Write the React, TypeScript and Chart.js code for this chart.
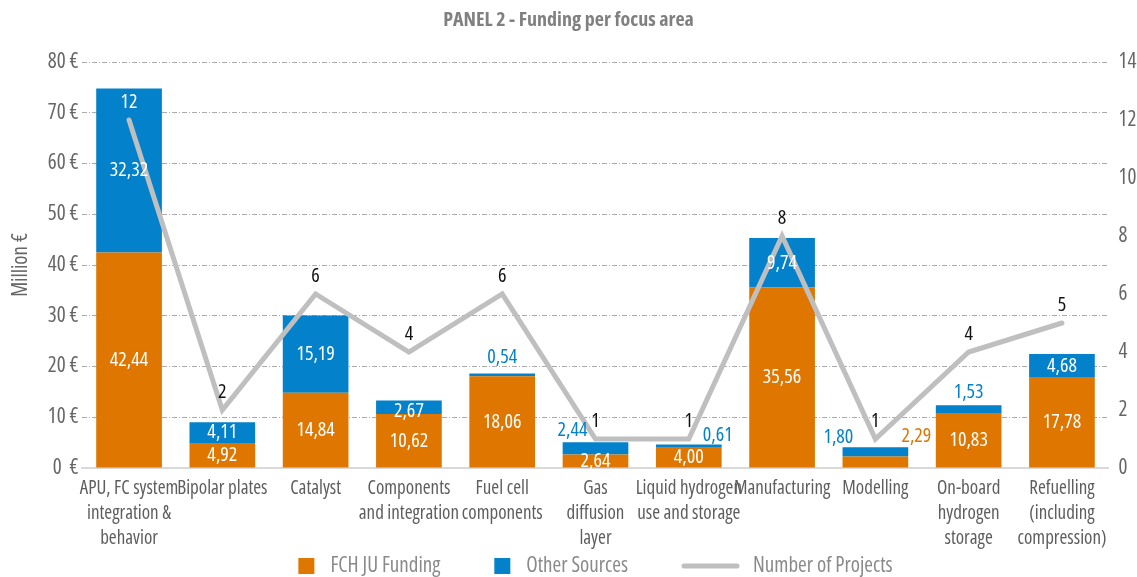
import React, { useEffect, useRef } from 'react';
import { Chart, registerables } from 'chart.js';

Chart.register(...registerables);

const chartTitle = 'PANEL 2 - Funding per focus area';
const yAxisTitle = 'Million €';

const categories: (string | string[])[] = [
  ['APU, FC system', 'integration &', 'behavior'],
  'Bipolar plates',
  'Catalyst',
  ['Components', 'and integration'],
  ['Fuel cell', 'components'],
  ['Gas', 'diffusion', 'layer'],
  ['Liquid hydrogen', 'use and storage'],
  'Manufacturing',
  'Modelling',
  ['On-board', 'hydrogen', 'storage'],
  ['Refuelling', '(including', 'compression)'],
];

const fchJuFunding = [42.44, 4.92, 14.84, 10.62, 18.06, 2.64, 4.0, 35.56, 2.29, 10.83, 17.78];
const otherSources = [32.32, 4.11, 15.19, 2.67, 0.54, 2.44, 0.61, 9.74, 1.8, 1.53, 4.68];
const numberOfProjects = [12, 2, 6, 4, 6, 1, 1, 8, 1, 4, 5];

const seriesNames = ['FCH JU Funding', 'Other Sources', 'Number of Projects'];

const leftAxis = { min: 0, max: 80, step: 10 };
const rightAxis = { min: 0, max: 14, step: 2 };

const FAMILY = "'Open Sans', 'DejaVu Sans Condensed', sans-serif";
const STRETCH = 'condensed';
const ORANGE = '#DE7600';
const BLUE = '#0381CA';
const LINE_GREY = '#BFBFBF';
const GRID_GREY = '#ABABAB';
const TICK_COLOR = '#666666';
const LABEL_COLOR = '#5E5E5E';
const LEGEND_COLOR = '#8A8A8A';

const cfont = (size: number, bold = false) => `${bold ? 'bold ' : ''}${STRETCH} ${size}px ${FAMILY}`;

// label placement tweaks (pixel offsets from a segment's centre), per dataset index -> category index
const labelTweaks: Record<number, Record<number, { dx: number; dy: number; color: string }>> = {
  1: { 8: { dx: 41, dy: -26, color: ORANGE } },
  2: {
    3: { dx: 0, dy: 4, color: '#FFFFFF' },
    4: { dx: 0, dy: -18, color: BLUE },
    5: { dx: -23, dy: -18, color: BLUE },
    6: { dx: 29, dy: -11, color: BLUE },
    8: { dx: -37, dy: -15, color: BLUE },
    9: { dx: 0, dy: -17, color: BLUE },
  },
};

const fmt = (v: number) => v.toFixed(2).replace('.', ',');

const dataLabelPlugin = {
  id: 'dataLabels',
  afterDatasetsDraw(chart: any) {
    const ctx = chart.ctx as CanvasRenderingContext2D;
    ctx.save();
    ctx.textAlign = 'center';
    ctx.textBaseline = 'middle';
    ctx.font = cfont(20);
    [1, 2].forEach((di) => {
      const meta = chart.getDatasetMeta(di);
      const values = chart.data.datasets[di].data as number[];
      meta.data.forEach((el: any, i: number) => {
        const { x, y, base } = el.getProps(['x', 'y', 'base'], true);
        const cy = (y + base) / 2;
        const tw = labelTweaks[di] && labelTweaks[di][i];
        ctx.fillStyle = tw ? tw.color : '#FFFFFF';
        ctx.fillText(fmt(values[i]), x + (tw ? tw.dx : 0), cy + (tw ? tw.dy : 0));
      });
    });
    const lineMeta = chart.getDatasetMeta(0);
    const lineVals = chart.data.datasets[0].data as number[];
    lineMeta.data.forEach((pt: any, i: number) => {
      const { x, y } = pt.getProps(['x', 'y'], true);
      ctx.fillStyle = i === 0 ? '#FFFFFF' : '#111111';
      ctx.fillText(String(lineVals[i]), x, y - 18);
    });
    ctx.restore();
  },
};

const legendPlugin = {
  id: 'customLegend',
  afterDraw(chart: any) {
    const ctx = chart.ctx as CanvasRenderingContext2D;
    const area = chart.chartArea;
    ctx.save();
    ctx.font = cfont(21);
    ctx.textBaseline = 'middle';
    ctx.textAlign = 'left';
    const y = 566;
    const items = [
      { kind: 'box', color: ORANGE, text: seriesNames[0] },
      { kind: 'box', color: BLUE, text: seriesNames[1] },
      { kind: 'line', color: LINE_GREY, text: seriesNames[2] },
    ];
    const widths = items.map((it) => (it.kind === 'box' ? 16 + 16 : 57 + 14) + ctx.measureText(it.text).width);
    const gap = 54;
    const total = widths.reduce((a, b) => a + b, 0) + gap * (items.length - 1);
    let x = (area.left + area.right) / 2 - total / 2;
    items.forEach((it, k) => {
      if (it.kind === 'box') {
        ctx.fillStyle = it.color;
        ctx.fillRect(x, y - 8, 16, 16);
        ctx.fillStyle = LEGEND_COLOR;
        ctx.fillText(it.text, x + 32, y);
      } else {
        ctx.strokeStyle = it.color;
        ctx.lineWidth = 5;
        ctx.lineCap = 'round';
        ctx.beginPath();
        ctx.moveTo(x + 2, y);
        ctx.lineTo(x + 55, y);
        ctx.stroke();
        ctx.fillStyle = LEGEND_COLOR;
        ctx.fillText(it.text, x + 71, y);
      }
      x += widths[k] + gap;
    });
    ctx.restore();
  },
};

export default function App() {
  const ref = useRef<HTMLCanvasElement>(null);
  useEffect(() => {
    document.body.style.margin = '0';
    const canvas = ref.current!;
    const chart = new Chart(canvas, {
      type: 'bar',
      data: {
        labels: categories as any,
        datasets: [
          {
            type: 'line',
            label: seriesNames[2],
            data: numberOfProjects,
            yAxisID: 'y1',
            borderColor: LINE_GREY,
            backgroundColor: LINE_GREY,
            borderWidth: 5,
            pointRadius: 0,
            pointHoverRadius: 0,
            tension: 0,
            borderCapStyle: 'round',
            order: 0,
          } as any,
          {
            type: 'bar',
            label: seriesNames[0],
            data: fchJuFunding,
            backgroundColor: ORANGE,
            yAxisID: 'y',
            stack: 'funding',
            barPercentage: 0.704,
            categoryPercentage: 1,
            order: 1,
          },
          {
            type: 'bar',
            label: seriesNames[1],
            data: otherSources,
            backgroundColor: BLUE,
            yAxisID: 'y',
            stack: 'funding',
            barPercentage: 0.704,
            categoryPercentage: 1,
            order: 1,
          },
        ],
      },
      options: {
        responsive: false,
        animation: false,
        layout: { padding: 0 },
        plugins: {
          legend: { display: false },
          tooltip: { enabled: false },
          title: {
            display: true,
            text: chartTitle,
            color: '#808080',
            font: { family: FAMILY, size: 20, weight: `bold ${STRETCH}` as any, lineHeight: 1.2 },
            padding: { top: 8, bottom: 30 },
          },
        },
        scales: {
          x: {
            stacked: true,
            grid: { display: false, drawTicks: false },
            border: { display: true, color: '#D9D9D9', width: 2 },
            ticks: {
              autoSkip: false,
              maxRotation: 0,
              minRotation: 0,
              padding: 8,
              color: LABEL_COLOR,
              font: { family: FAMILY, size: 19, weight: STRETCH as any, lineHeight: 25 / 19 },
            },
            afterFit: (s: any) => {
              s.height = 109;
            },
          },
          y: {
            stacked: true,
            position: 'left',
            min: leftAxis.min,
            max: leftAxis.max,
            ticks: {
              stepSize: leftAxis.step,
              padding: 4,
              color: TICK_COLOR,
              font: { family: FAMILY, size: 21, weight: STRETCH as any },
              callback: (v: any) => (Number(v) === 0 ? '0  €' : `${v} €`),
            },
            grid: {
              drawTicks: false,
              color: (c: any) => (c.tick && c.tick.value === 0 ? 'rgba(0,0,0,0)' : GRID_GREY),
              lineWidth: 1,
            },
            border: { display: false, dash: [5, 2, 1, 2] },
            title: {
              display: true,
              text: yAxisTitle,
              color: TICK_COLOR,
              font: { family: FAMILY, size: 21, weight: STRETCH as any, lineHeight: 1.2 },
              padding: { top: 8, bottom: 0 },
            },
            afterFit: (s: any) => {
              s.width = 82.4;
            },
          },
          y1: {
            position: 'right',
            min: rightAxis.min,
            max: rightAxis.max,
            grid: { display: false, drawTicks: false },
            border: { display: false },
            ticks: {
              stepSize: rightAxis.step,
              padding: 10,
              color: TICK_COLOR,
              font: { family: FAMILY, size: 21, weight: STRETCH as any },
            },
            afterFit: (s: any) => {
              s.width = 28.4;
            },
          },
        },
      },
      plugins: [dataLabelPlugin, legendPlugin],
    });
    return () => chart.destroy();
  }, []);

  return (
    <div style={{ position: 'absolute', left: 0, top: 0, width: 1137, height: 577 }}>
      <canvas ref={ref} width={1137} height={577} style={{ display: 'block' }} />
    </div>
  );
}
